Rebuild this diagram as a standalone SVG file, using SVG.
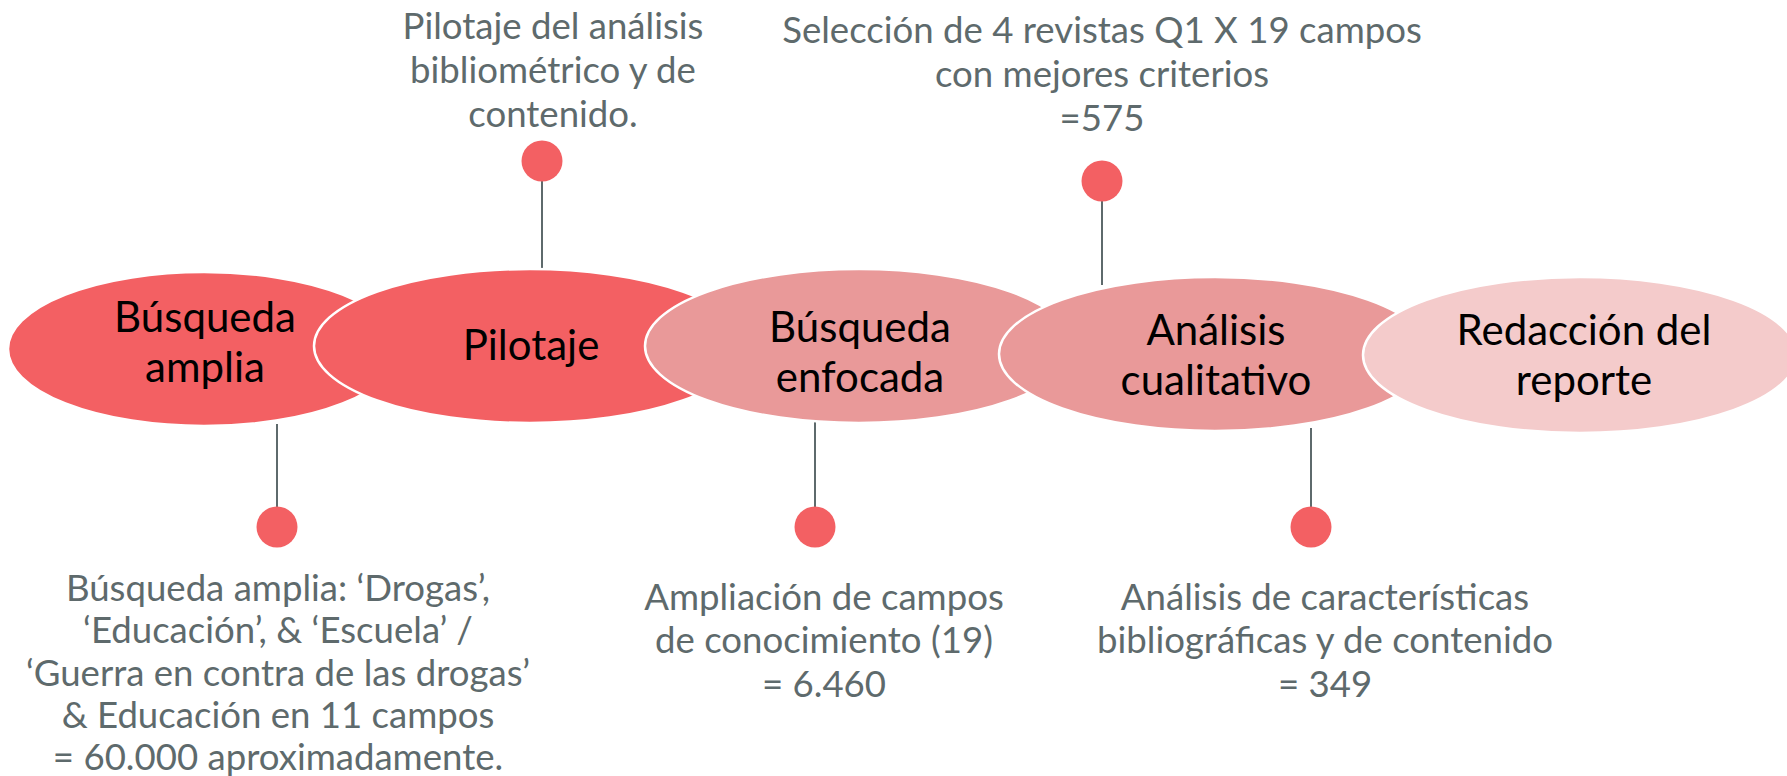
<svg xmlns="http://www.w3.org/2000/svg" width="1787" height="776" viewBox="0 0 1787 776">
<style>
.ell{stroke:#ffffff;stroke-width:2.5}
.c1{fill:#F36063}
.c2{fill:#E99999}
.c3{fill:#F4CBCB}
.lbl{font-family:Lato,"Open Sans",sans-serif;font-size:42px;fill:#000000;text-anchor:middle}
.ann{font-family:Lato,"Open Sans",sans-serif;font-size:36.6px;fill:#5E6A6C;text-anchor:middle}
.con{stroke:#5E6A6C;stroke-width:2;fill:none}
.dot{fill:#F36063}
</style>
<rect width="1787" height="776" fill="#ffffff"/>
<g id="connectors">
<line class="con" x1="277" y1="424" x2="277" y2="510"/>
<line class="con" x1="542" y1="178" x2="542" y2="268"/>
<line class="con" x1="815" y1="421" x2="815" y2="510"/>
<line class="con" x1="1102" y1="198" x2="1102" y2="285"/>
<line class="con" x1="1311" y1="428" x2="1311" y2="510"/>
<circle class="dot" cx="277" cy="527" r="20.5"/>
<circle class="dot" cx="542" cy="161" r="20.5"/>
<circle class="dot" cx="815" cy="527" r="20.5"/>
<circle class="dot" cx="1102" cy="181" r="20.5"/>
<circle class="dot" cx="1311" cy="527" r="20.5"/>
</g>
<g id="node1">
<ellipse class="ell c1" cx="204" cy="349" rx="196" ry="77"/>
<text class="lbl" x="205" y="332">Búsqueda</text>
<text class="lbl" x="205" y="382">amplia</text>
</g>
<g id="node2">
<ellipse class="ell c1" cx="530" cy="346" rx="216" ry="77"/>
<text class="lbl" x="531" y="360">Pilotaje</text>
</g>
<g id="node3">
<ellipse class="ell c2" cx="859" cy="346" rx="214" ry="77"/>
<text class="lbl" x="860" y="342">Búsqueda</text>
<text class="lbl" x="860" y="392">enfocada</text>
</g>
<g id="node4">
<ellipse class="ell c2" cx="1215" cy="354" rx="216" ry="77"/>
<text class="lbl" x="1216" y="345">Análisis</text>
<text class="lbl" x="1216" y="395">cualitativo</text>
</g>
<g id="node5">
<ellipse class="ell c3" cx="1580" cy="355" rx="217" ry="78"/>
<text class="lbl" x="1584" y="345">Redacción del</text>
<text class="lbl" x="1584" y="395">reporte</text>
</g>
<g id="ann-pilotaje">
<text class="ann" x="553" y="39">Pilotaje del análisis</text>
<text class="ann" x="553" y="83">bibliométrico y de</text>
<text class="ann" x="553" y="127">contenido.</text>
</g>
<g id="ann-seleccion">
<text class="ann" x="1102" y="43">Selección de 4 revistas Q1 X 19 campos</text>
<text class="ann" x="1102" y="87">con mejores criterios</text>
<text class="ann" x="1102" y="131">=575</text>
</g>
<g id="ann-busqueda">
<text class="ann" x="278" y="601">Búsqueda amplia: ‘Drogas’,</text>
<text class="ann" x="278" y="643">‘Educación’, &amp; ‘Escuela’ /</text>
<text class="ann" x="278" y="686">‘Guerra en contra de las drogas’</text>
<text class="ann" x="278" y="728">&amp; Educación en 11 campos</text>
<text class="ann" x="278" y="770">= 60.000 aproximadamente.</text>
</g>
<g id="ann-ampliacion">
<text class="ann" x="824" y="610">Ampliación de campos</text>
<text class="ann" x="824" y="653">de conocimiento (19)</text>
<text class="ann" x="824" y="697">= 6.460</text>
</g>
<g id="ann-analisis">
<text class="ann" x="1325" y="610">Análisis de características</text>
<text class="ann" x="1325" y="653">bibliográficas y de contenido</text>
<text class="ann" x="1325" y="697">= 349</text>
</g>
</svg>
